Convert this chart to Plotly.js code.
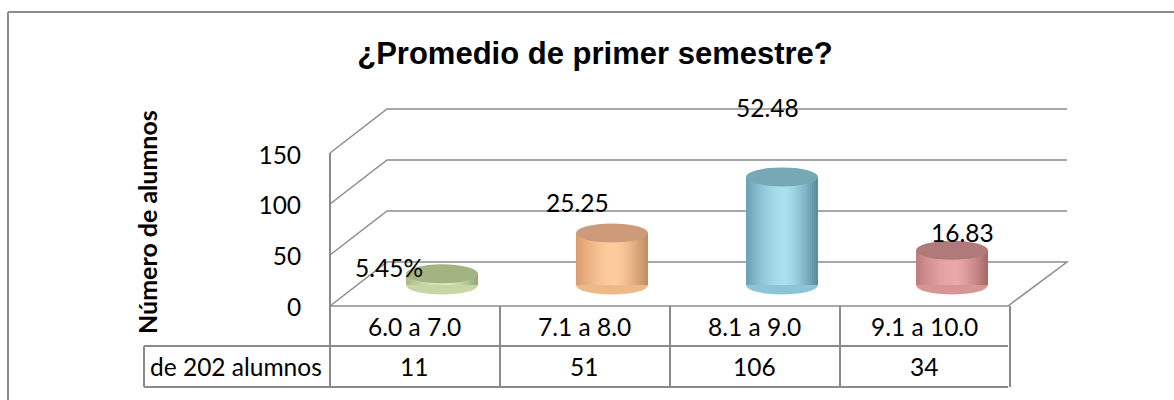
<!DOCTYPE html>
<html>
<head>
<meta charset="utf-8">
<script src="https://cdn.plot.ly/plotly-3.0.1.min.js"></script>
<style>html,body{margin:0;padding:0;background:#fff;}#chart{width:1174px;height:400px;}</style>
</head>
<body>
<div id="chart"></div>
<script>
// ---- data ----
const chartTitle = '¿Promedio de primer semestre?';
const yTitle = 'Número de alumnos';
const categories = ['6.0 a 7.0', '7.1 a 8.0', '8.1 a 9.0', '9.1 a 10.0'];
const counts = [11, 51, 106, 34];
const pctLabels = ['5.45%', '25.25', '52.48', '16.83'];
const yTicks = [0, 50, 100, 150];
const tableRowLabel = 'de 202 alumnos';

// ---- styles ----
const sideDark  = ['#a8bb84', '#dc9c6c', '#66a1b3', '#bd7b7c'];
const sideLight = ['#dce9bb', '#fdcc9e', '#a9dfef', '#eba8a8'];
const sideRight = ['#95a676', '#c08a5e', '#57899a', '#a46868'];
const topCol    = ['#a3b483', '#cd9b79', '#76a8b6', '#b07a7a'];
const gridCol = '#8c8c8c';
const FONT = "Lato, 'Noto Sans', sans-serif";

// geometry helpers (pixel -> paper)
const W = 1174, H = 400, L = 330, R = 1067, T = 100, B = 310;
const X = p => (p - L) / (R - L);
const Y = p => (B - p) / (B - T);
const slotPx = 170;
const barPx = 72;
const BW = barPx / slotPx;
const colShift = -28 / slotPx;
const capR = 9.5 / 1.02;

function hex2rgb(h){return [1,3,5].map(i=>parseInt(h.substr(i,2),16));}
function mix(a,b,t){const A=hex2rgb(a),Bc=hex2rgb(b);return 'rgb('+A.map((v,i)=>Math.round(v+(Bc[i]-v)*t)).join(',')+')';}
function shade(i,t){
  if(t<0.55){return mix(sideDark[i], sideLight[i], Math.sin(t/0.55*Math.PI/2));}
  const s=(t-0.55)/0.45; return mix(sideLight[i], sideRight[i], Math.pow(s,1.4));
}

// ---- traces: cylinder sides as vertical strips ----
const N = 36, sw = BW / N;
const traces = [];
for (let k = 0; k < N; k++) {
  const t = (k + 0.5) / N;
  traces.push({
    type: 'bar', x: categories, y: counts,
    width: k < N - 1 ? sw * 1.6 : sw,
    offset: -BW / 2 + k * sw,
    marker: { color: categories.map((c, i) => shade(i, t)), line: { width: 0 } },
    hoverinfo: 'skip', showlegend: false, xaxis: 'x', yaxis: 'y'
  });
}
// invisible trace carrying the tick axis
traces.push({ type: 'scatter', x: [categories[0]], y: [0], yaxis: 'y2', mode: 'markers',
  marker: { opacity: 0 }, hoverinfo: 'skip', showlegend: false });

// ---- shapes ----
const shapes = [];
const line = { color: gridCol, width: 1.5 };
yTicks.forEach(v => {
  const f = 306 - 1.02 * v, b = 262 - 1.02 * v;
  let path = `M ${X(330)},${Y(f)} L ${X(387)},${Y(b)} L ${X(1067)},${Y(b)}`;
  if (v === 0) path += ` L ${X(1008)},${Y(306)} L ${X(330)},${Y(306)}`;
  shapes.push({ type: 'path', xref: 'paper', yref: 'paper', path, line, layer: 'below' });
});
// bottom caps
categories.forEach((c, i) => {
  shapes.push({ type: 'circle', xref: 'x', yref: 'y', x0: i - BW / 2, x1: i + BW / 2,
    y0: -capR, y1: capR, fillcolor: shade(i, 0.22), line: { width: 0 }, layer: 'below' });
});
// top caps
categories.forEach((c, i) => {
  shapes.push({ type: 'circle', xref: 'x', yref: 'y', x0: i - BW / 2, x1: i + BW / 2,
    y0: counts[i] - capR, y1: counts[i] + capR, fillcolor: topCol[i], line: { width: 0 }, layer: 'above' });
});
// data table lines
const tline = { color: '#8a8a8a', width: 2 };
const colEdges = [0, 1, 2, 3, 4].map(k => 330 + slotPx * k);
const hl = (y, x0, x1) => shapes.push({ type: 'line', xref: 'paper', yref: 'paper', x0: X(x0), x1: X(x1), y0: Y(y), y1: Y(y), line: tline });
const vl = (x, y0, y1) => shapes.push({ type: 'line', xref: 'paper', yref: 'paper', x0: X(x), x1: X(x), y0: Y(y0), y1: Y(y1), line: tline });
hl(346, 144, 1008); hl(387, 144, 1008);
vl(144, 346, 387);
vl(330, 153, 387);
colEdges.slice(1).forEach(x => vl(x, 306, 387));
// outer chart border
shapes.push({ type: 'line', xref: 'paper', yref: 'paper', x0: X(8), x1: X(1174), y0: Y(12), y1: Y(12), line: { color: '#8c8c8c', width: 2 } });
shapes.push({ type: 'line', xref: 'paper', yref: 'paper', x0: X(8), x1: X(8), y0: Y(12), y1: Y(400), line: { color: '#8c8c8c', width: 2 } });

// ---- annotations ----
const tf = { family: FONT, size: 24.5, color: '#000' };
const labelShift = [[-53, 6], [-35, 30], [-15, 69], [10, 18]];
const annotations = [];
categories.forEach((c, i) => {
  annotations.push({ xref: 'x', yref: 'y', x: i, y: counts[i], text: pctLabels[i], showarrow: false,
    xanchor: 'center', yanchor: 'middle', xshift: labelShift[i][0], yshift: labelShift[i][1], font: tf });
  annotations.push({ xref: 'x', yref: 'paper', x: i + colShift, y: Y(326.5), text: c, showarrow: false,
    xanchor: 'center', yanchor: 'middle', font: tf });
  annotations.push({ xref: 'x', yref: 'paper', x: i + colShift, y: Y(366.5), text: String(counts[i]), showarrow: false,
    xanchor: 'center', yanchor: 'middle', font: tf });
});
annotations.push({ xref: 'paper', yref: 'paper', x: X(236), y: Y(366.5), text: tableRowLabel, showarrow: false,
  xanchor: 'center', yanchor: 'middle', font: tf });
// y-axis title
annotations.push({ xref: 'paper', yref: 'paper', x: X(147), y: Y(222), text: yTitle, showarrow: false,
  textangle: -90, xanchor: 'center', yanchor: 'middle',
  font: { family: FONT, size: 25, color: '#000', weight: 'bold' } });

const layout = {
  width: W, height: H,
  margin: { l: L, r: W - R, t: T, b: H - B, pad: 0 },
  paper_bgcolor: '#fff', plot_bgcolor: 'rgba(0,0,0,0)',
  title: { text: chartTitle, font: { family: "'Liberation Sans', Arial, sans-serif", size: 31, color: '#000', weight: 'bold' },
    xref: 'container', yref: 'container', x: 595 / W, y: 1 - 53 / H, xanchor: 'center', yanchor: 'middle' },
  barmode: 'overlay',
  showlegend: false,
  xaxis: { type: 'category', range: [(330 - 442) / slotPx, (1067 - 442) / slotPx], visible: false, fixedrange: true },
  yaxis: { range: [-(B - 285) / 1.02, (285 - T) / 1.02], visible: false, fixedrange: true },
  yaxis2: { overlaying: 'y', side: 'left', range: [-(B - 307) / 1.013, (307 - T) / 1.013],
    tickvals: yTicks, ticktext: yTicks.map(String), showgrid: false, zeroline: false, showline: false,
    ticks: 'outside', ticklen: 23, tickcolor: 'rgba(0,0,0,0)', tickfont: tf,
    fixedrange: true },
  shapes, annotations
};
Plotly.newPlot('chart', traces, layout, { displayModeBar: false, staticPlot: true });
</script>
</body>
</html>
